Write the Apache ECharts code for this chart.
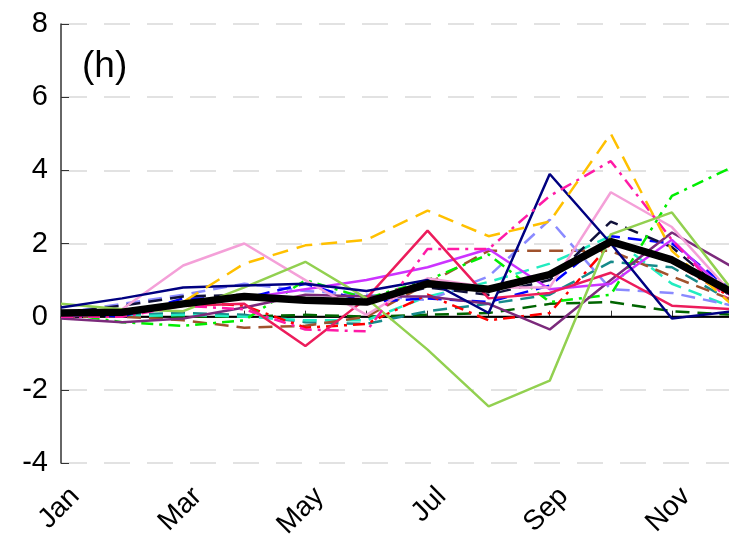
<!DOCTYPE html>
<html>
<head>
<meta charset="utf-8">
<script src="https://cdn.jsdelivr.net/npm/echarts@6/dist/echarts.min.js"></script>
<style>
  html, body { margin: 0; padding: 0; background: #fff; }
  #chart { width: 729px; height: 542px; }
</style>
</head>
<body>
<div id="chart"></div>
<script>
// 月份
var months = ["Jan", "Feb", "Mar", "Apr", "May", "Jun", "Jul", "Aug", "Sep", "Oct", "Nov", "Dec"];
var yTicks = [-4, -2, 0, 2, 4, 6, 8];

// 各条曲线
var goldDash     = [0.1, 0.1, 0.4, 1.45, 1.95, 2.1, 2.9, 2.2, 2.6, 5.0, 1.8, 0.3];
var pinkDashDot  = [0.0, 0.0, 0.3, 0.2, -0.35, -0.4, 1.85, 1.85, 3.3, 4.25, 2.1, 0.3];
var navySolid    = [0.25, 0.5, 0.8, 0.85, 0.9, 0.7, 1.0, 0.1, 3.9, 2.0, -0.05, 0.15];
var greenSolid   = [0.35, 0.2, 0.15, 0.8, 1.5, 0.5, -0.9, -2.45, -1.75, 2.25, 2.85, 0.7];
var lightPink    = [0.1, 0.2, 1.4, 2.0, 1.0, 0.05, 1.05, 0.8, 0.8, 3.4, 2.45, 0.6];
var crimsonSolid = [0.05, 0.1, 0.3, 0.35, -0.8, 0.5, 2.35, 0.5, 0.65, 1.2, 0.3, 0.2];
var violetSolid  = [0.0, 0.1, 0.3, 0.5, 0.75, 1.0, 1.35, 1.85, 0.75, 0.9, 2.1, 0.5];
var purpleSolid  = [-0.05, -0.15, -0.05, 0.25, 0.6, 0.55, 0.55, 0.35, -0.35, 1.0, 2.3, 1.35];
var limeDashDot  = [0.1, -0.15, -0.25, -0.1, 1.0, 0.5, 1.0, 1.7, 0.4, 0.6, 3.3, 4.1];
var brownDash    = [0.0, 0.0, -0.1, -0.3, -0.25, 0.0, 0.9, 1.8, 1.8, 1.8, 1.1, 0.45];
var tealDash     = [0.05, 0.05, 0.1, 0.05, -0.15, -0.2, 0.15, 0.35, 0.6, 1.5, 1.35, 0.4];
var aquaDash     = [0.05, 0.0, 0.05, 0.0, -0.1, -0.1, 0.55, 0.95, 1.45, 2.2, 0.9, 0.25];
var blueDash     = [0.1, 0.0, 0.5, 0.5, 0.9, 0.4, 0.5, 0.4, 0.85, 2.2, 2.0, 0.7];
var slateDash    = [0.1, 0.35, 0.6, 0.9, 0.7, 0.6, 0.45, 1.1, 2.65, 0.75, 0.65, 0.3];
var blackDash    = [0.1, 0.3, 0.55, 0.6, 0.5, 0.4, 0.8, 0.6, 1.0, 2.6, 1.9, 0.5];
var redDashDot   = [0.05, 0.1, 0.4, 0.3, -0.3, -0.2, 0.6, -0.1, 0.1, 2.0, 1.5, 0.5];
var darkGreenDash = [0.0, 0.0, 0.0, 0.0, 0.05, 0.0, 0.05, 0.1, 0.35, 0.4, 0.15, 0.05];
var zeroLine     = [0, 0, 0, 0, 0, 0, 0, 0, 0, 0, 0, 0];
var meanLine     = [0.1, 0.12, 0.35, 0.55, 0.45, 0.4, 0.9, 0.75, 1.15, 2.05, 1.55, 0.65];

var DASH = [14, 8];
var DASHDOT = [12, 6, 3, 6];

function line(data, color, type, width) {
  return {
    type: "line",
    data: data,
    symbol: "none",
    silent: true,
    lineStyle: { color: color, width: width || 2.5, type: type || "solid" }
  };
}

var myChart = echarts.init(document.getElementById("chart"));
var option = {
  animation: false,
  backgroundColor: "#fff",
  grid: { left: 61, right: -4, top: 24, bottom: 79, containLabel: false, outerBoundsMode: "none" },
  graphic: [{
    type: "text",
    left: 82,
    top: 48,
    style: { text: "(h)", font: "37px 'Liberation Sans', Arial, sans-serif", fill: "#000" }
  }],
  xAxis: {
    type: "category",
    boundaryGap: false,
    data: months,
    axisLine: { lineStyle: { color: "#333", width: 1.5 } },
    axisTick: { inside: true, length: 6, interval: 0, lineStyle: { color: "#333" } },
    axisLabel: {
      interval: 1,
      rotate: 45,
      margin: 15,
      fontSize: 28,
      lineHeight: 40,
      verticalAlign: "top",
      color: "#000",
      fontFamily: "Liberation Sans"
    },
    splitLine: { show: false }
  },
  yAxis: {
    type: "value",
    min: yTicks[0],
    max: yTicks[yTicks.length - 1],
    interval: 2,
    axisLine: { show: true, lineStyle: { color: "#333", width: 1.5 } },
    axisTick: { show: true, inside: true, length: 8, lineStyle: { color: "#333" } },
    axisLabel: { fontSize: 29, color: "#000", margin: 13, fontFamily: "Liberation Sans" },
    splitLine: { show: true, lineStyle: { color: "#d9d9d9", type: [26, 17], width: 1.5 } }
  },
  series: [
    line(zeroLine, "#000", "solid", 2),
    line(darkGreenDash, "#006400", DASH),
    line(tealDash, "#168a8a", DASH),
    line(aquaDash, "#22ecc0", DASH),
    line(brownDash, "#a0522d", DASH),
    line(slateDash, "#8a8aff", DASH),
    line(blueDash, "#0000ff", DASH),
    line(blackDash, "#10103a", DASH),
    line(redDashDot, "#ff0000", DASHDOT),
    line(limeDashDot, "#00ee00", DASHDOT),
    line(purpleSolid, "#7b2a7b"),
    line(violetSolid, "#cc33ff"),
    line(crimsonSolid, "#ec1c5b"),
    line(lightPink, "#f4a0d8"),
    line(greenSolid, "#92d050"),
    line(navySolid, "#000080"),
    line(pinkDashDot, "#ff1aa6", DASHDOT),
    line(goldDash, "#ffc000", [16, 9]),
    line(meanLine, "#000", "solid", 7.5)
  ]
};
myChart.setOption(option);
</script>
</body>
</html>
